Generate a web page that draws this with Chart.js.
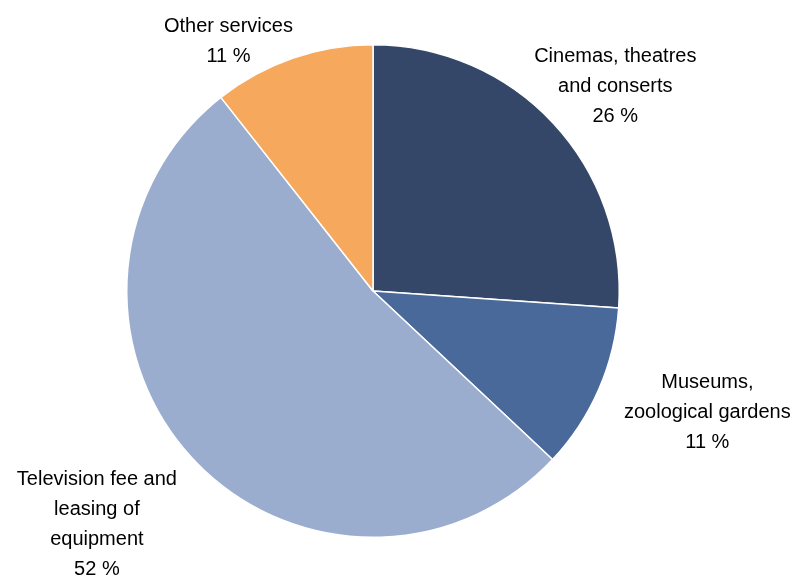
<!DOCTYPE html>
<html>
<head>
<meta charset="utf-8">
<script src="https://cdn.jsdelivr.net/npm/chart.js@4"></script>
<style>
  html, body { margin: 0; padding: 0; background: #ffffff; }
  #wrap { width: 792px; height: 576px; position: relative; }
</style>
</head>
<body>
<div id="wrap"><canvas id="c" width="792" height="576"></canvas></div>
<script>
// ---- data ----
const categories = [
  ["Cinemas, theatres", "and conserts"],
  ["Museums,", "zoological gardens"],
  ["Television fee and", "leasing of", "equipment"],
  ["Other services"]
];
const shares = [26.1, 10.9, 52.4, 10.6];          // slice sizes
const shareLabels = ["26 %", "11 %", "52 %", "11 %"];
const sliceColors = ["#344768", "#4a699b", "#9badcf", "#f6a95d"];

// ---- label layout (nudges from the slice's outside anchor, px) ----
const labelNudges = [[33, -9], [72, 7], [-65, 40], [-51, 21]];
const labelGap = 40;
const fontSize = 20;
const lineHeight = 30;

const labelPlugin = {
  id: 'outsideLabels',
  afterDatasetsDraw(chart) {
    const ctx = chart.ctx;
    const meta = chart.getDatasetMeta(0);
    ctx.save();
    ctx.font = fontSize + 'px "Liberation Sans", Arial, sans-serif';
    ctx.fillStyle = '#000000';
    ctx.textAlign = 'center';
    ctx.textBaseline = 'middle';
    meta.data.forEach((arc, i) => {
      const p = arc.getProps(['x', 'y', 'startAngle', 'endAngle', 'outerRadius'], true);
      const mid = (p.startAngle + p.endAngle) / 2;
      const d = p.outerRadius + labelGap;
      const cx = p.x + Math.cos(mid) * d + labelNudges[i][0];
      const cy = p.y + Math.sin(mid) * d + labelNudges[i][1];
      const lines = categories[i].concat([shareLabels[i]]);
      const top = cy - (lines.length - 1) * lineHeight / 2;
      lines.forEach((t, k) => ctx.fillText(t, cx, top + k * lineHeight));
    });
    ctx.restore();
  }
};

new Chart(document.getElementById('c'), {
  type: 'pie',
  data: {
    labels: categories.map(c => c.join(' ')),
    datasets: [{
      data: shares,
      backgroundColor: sliceColors,
      borderColor: '#ffffff',
      borderWidth: 1.5
    }]
  },
  options: {
    responsive: false,
    animation: false,
    layout: { padding: { left: 126, right: 172, top: 44, bottom: 38 } },
    plugins: {
      legend: { display: false },
      tooltip: { enabled: false }
    }
  },
  plugins: [labelPlugin]
});
</script>
</body>
</html>
